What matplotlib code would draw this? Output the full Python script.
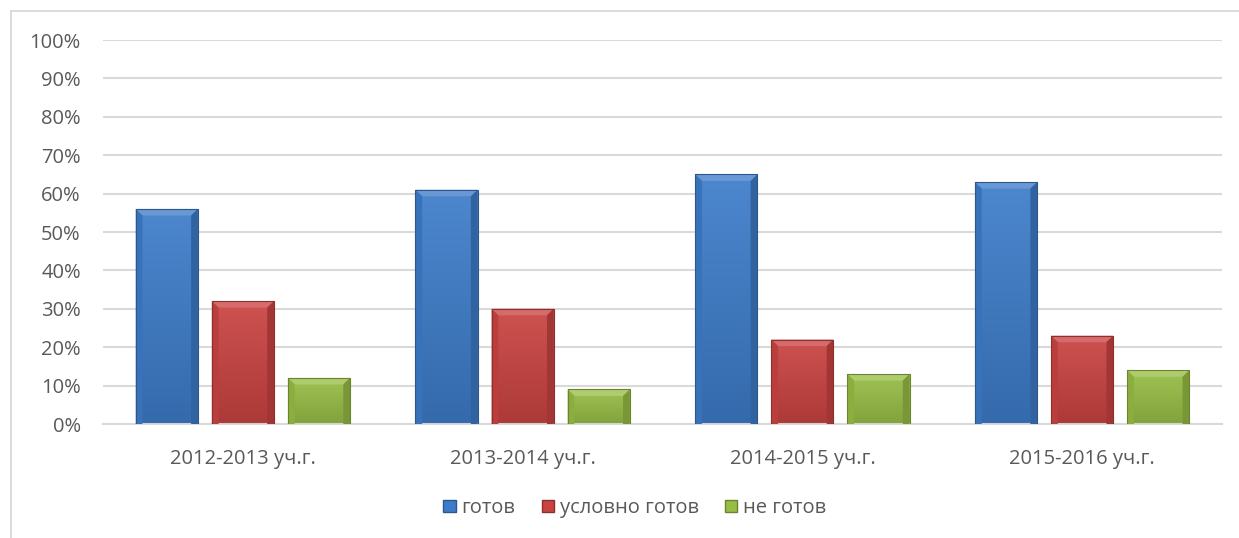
import matplotlib.pyplot as plt
from matplotlib.patches import Polygon, Rectangle
from matplotlib.lines import Line2D
from matplotlib.colors import to_rgb
import numpy as np

years = ["2012-2013 уч.г.", "2013-2014 уч.г.", "2014-2015 уч.г.", "2015-2016 уч.г."]
series_names = ["готов", "условно готов", "не готов"]
ready = [56, 61, 65, 63]
cond_ready = [32, 30, 22, 23]
not_ready = [12, 9, 13, 14]
y_ticks = [0, 10, 20, 30, 40, 50, 60, 70, 80, 90, 100]

colors = ["#3d7cc9", "#c94341", "#97bd45"]
text_color = "#595959"
grid_color = "#d9d9d9"

plt.rcParams['font.family'] = ['Open Sans', 'DejaVu Sans']


def shade(c, f):
    r = np.array(to_rgb(c))
    if f > 0:
        return tuple(r + (1 - r) * f)
    return tuple(r * (1 + f))


def bevel_bar(ax, x, w, h, color, bx=0.024, by=1.7):
    # body with a vertical gradient
    grad = np.linspace(1, 0, 64).reshape(-1, 1)
    top = np.array(shade(color, 0.08))
    bot = np.array(shade(color, -0.14))
    img = grad[..., None] * top + (1 - grad[..., None]) * bot
    rect = Rectangle((x, 0), w, h, facecolor="none", edgecolor="none")
    ax.add_patch(rect)
    im = ax.imshow(img, extent=(x, x + w, 0, h), aspect="auto", zorder=2,
                   interpolation="bilinear")
    im.set_clip_path(rect)
    # bevels
    ax.add_patch(Polygon([(x, h), (x + w, h), (x + w - bx, h - by), (x + bx, h - by)],
                         closed=True, facecolor=shade(color, 0.22), edgecolor="none", zorder=3))
    ax.add_patch(Polygon([(x, 0), (x, h), (x + bx, h - by), (x + bx, 0)],
                         closed=True, facecolor=shade(color, -0.08), edgecolor="none", zorder=3))
    ax.add_patch(Polygon([(x + w, 0), (x + w, h), (x + w - bx, h - by), (x + w - bx, 0)],
                         closed=True, facecolor=shade(color, -0.2), edgecolor="none", zorder=3))
    ax.add_patch(Rectangle((x, 0), w, h, facecolor="none",
                           edgecolor=shade(color, -0.3), linewidth=0.8, zorder=4))


fig = plt.figure(figsize=(12.39, 5.38), dpi=100)
ax = fig.add_axes([103 / 1239, 1 - 424 / 538, 1119 / 1239, 384 / 538])

# chart area border (top and left visible)
bx0, by0 = 10.5 / 1239, 1 - 10.5 / 538
fig.lines.append(Line2D([bx0, 1.0], [by0, by0], transform=fig.transFigure,
                        color=grid_color, linewidth=1.3))
fig.lines.append(Line2D([bx0, bx0], [0, by0], transform=fig.transFigure,
                        color=grid_color, linewidth=1.3))

x = np.arange(len(years))
width = 0.222
step = 0.272
for i, (vals, col) in enumerate(zip([ready, cond_ready, not_ready], colors)):
    for xi, v in zip(x, vals):
        bevel_bar(ax, xi + (i - 1) * step - width / 2, width, v, col)

ax.set_xlim(-0.5, len(years) - 0.5)
ax.set_ylim(0, 100)
ax.set_yticks(y_ticks)
ax.set_yticklabels([f"{t}%" for t in y_ticks])
ax.set_xticks(x)
ax.set_xticklabels(years)
ax.yaxis.grid(True, color=grid_color, linewidth=1.5, zorder=0)
ax.set_axisbelow(True)
for s in ["top", "right", "left"]:
    ax.spines[s].set_visible(False)
ax.spines["bottom"].set_color(grid_color)
ax.spines["bottom"].set_linewidth(1.5)
ax.tick_params(axis="both", length=0, labelsize=14.5, colors=text_color)
ax.tick_params(axis="y", pad=16)
ax.tick_params(axis="x", pad=18)

handles = [Rectangle((0, 0), 1, 1, facecolor=c, edgecolor=shade(c, -0.3)) for c in colors]
fig.legend(handles, series_names, loc="center", bbox_to_anchor=(635 / 1239, 1 - 508 / 538),
           ncol=3, frameon=False, fontsize=14.5, labelcolor=text_color,
           handlelength=0.6, handleheight=0.6, handletextpad=0.3, columnspacing=1.3)

fig.savefig("out.png", dpi=100)
